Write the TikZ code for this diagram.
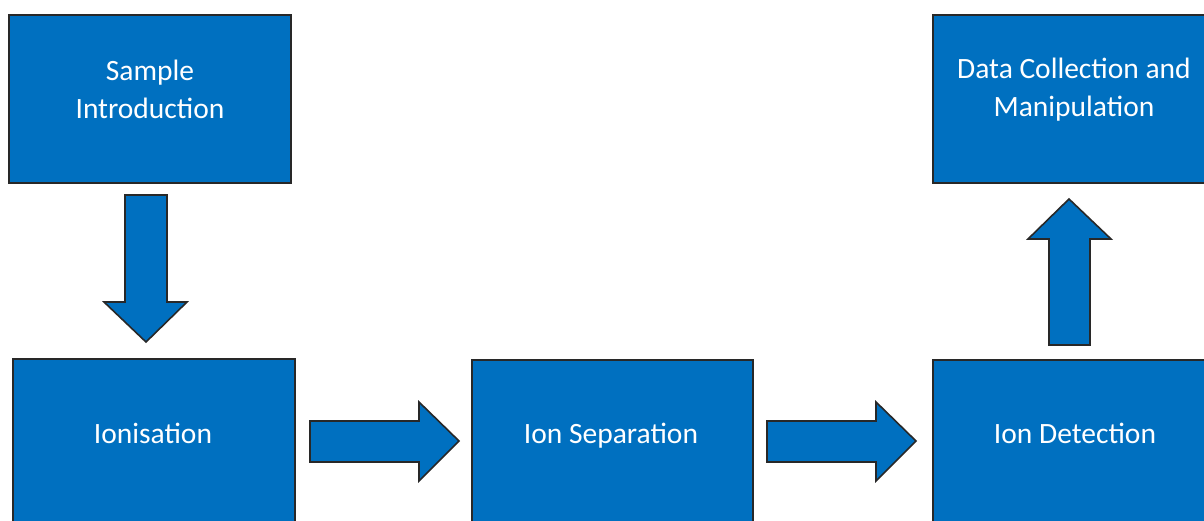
\documentclass[tikz,border=0pt]{standalone}
\usepackage{fontspec}
\setmainfont{Carlito}
\definecolor{boxblue}{RGB}{0,112,192}
\definecolor{edge}{RGB}{40,40,40}
\begin{document}
\begin{tikzpicture}[x=1pt,y=-1pt,
  box/.style={draw=edge,line width=1.6pt,fill=boxblue,rectangle,inner sep=0pt},
  lbl/.style={text=white,font=\fontsize{29.5}{38}\selectfont,align=center,inner sep=0pt},
  blockarrow/.style={draw=edge,line width=1.6pt,fill=boxblue,line join=miter}]
\useasboundingbox (0,0) rectangle (1204,520);
\clip (0,0) rectangle (1204,520);
\fill[white] (0,0) rectangle (1204,520);
% boxes
\node[box,minimum width=282pt,minimum height=168pt] (sample) at (150,99) {};
\node[box,minimum width=282pt,minimum height=168pt] (data) at (1074,99) {};
\node[box,minimum width=282pt,minimum height=168pt] (ion) at (154,443) {};
\node[box,minimum width=281pt,minimum height=168pt] (sep) at (612.5,444) {};
\node[box,minimum width=282pt,minimum height=168pt] (det) at (1074,444) {};
% labels
\node[lbl] (tsample) at (150,89.5) {Sample\\Introduction};
\node[lbl] (tdata) at (1074,89.5) {Data Collection and\\Manipulation};
\node[lbl,anchor=base] (tion) at (153,443) {Ionisation};
\node[lbl,anchor=base] (tsep) at (611,443) {Ion Separation};
\node[lbl,anchor=base] (tdet) at (1075,443) {Ion Detection};
% block arrows
\draw[blockarrow] (125,195) -- (167,195) -- (167,302) -- (187,302) -- (146,342) -- (104,302) -- (125,302) -- cycle;
\draw[blockarrow] (1049,345) -- (1090,345) -- (1090,239) -- (1111,239) -- (1069,199) -- (1028,239) -- (1049,239) -- cycle;
\draw[blockarrow] (310,421) -- (419,421) -- (419,402) -- (459,441) -- (419,481) -- (419,462) -- (310,462) -- cycle;
\draw[blockarrow] (767,421) -- (876,421) -- (876,402) -- (916,441) -- (876,481) -- (876,462) -- (767,462) -- cycle;
\end{tikzpicture}
\end{document}
